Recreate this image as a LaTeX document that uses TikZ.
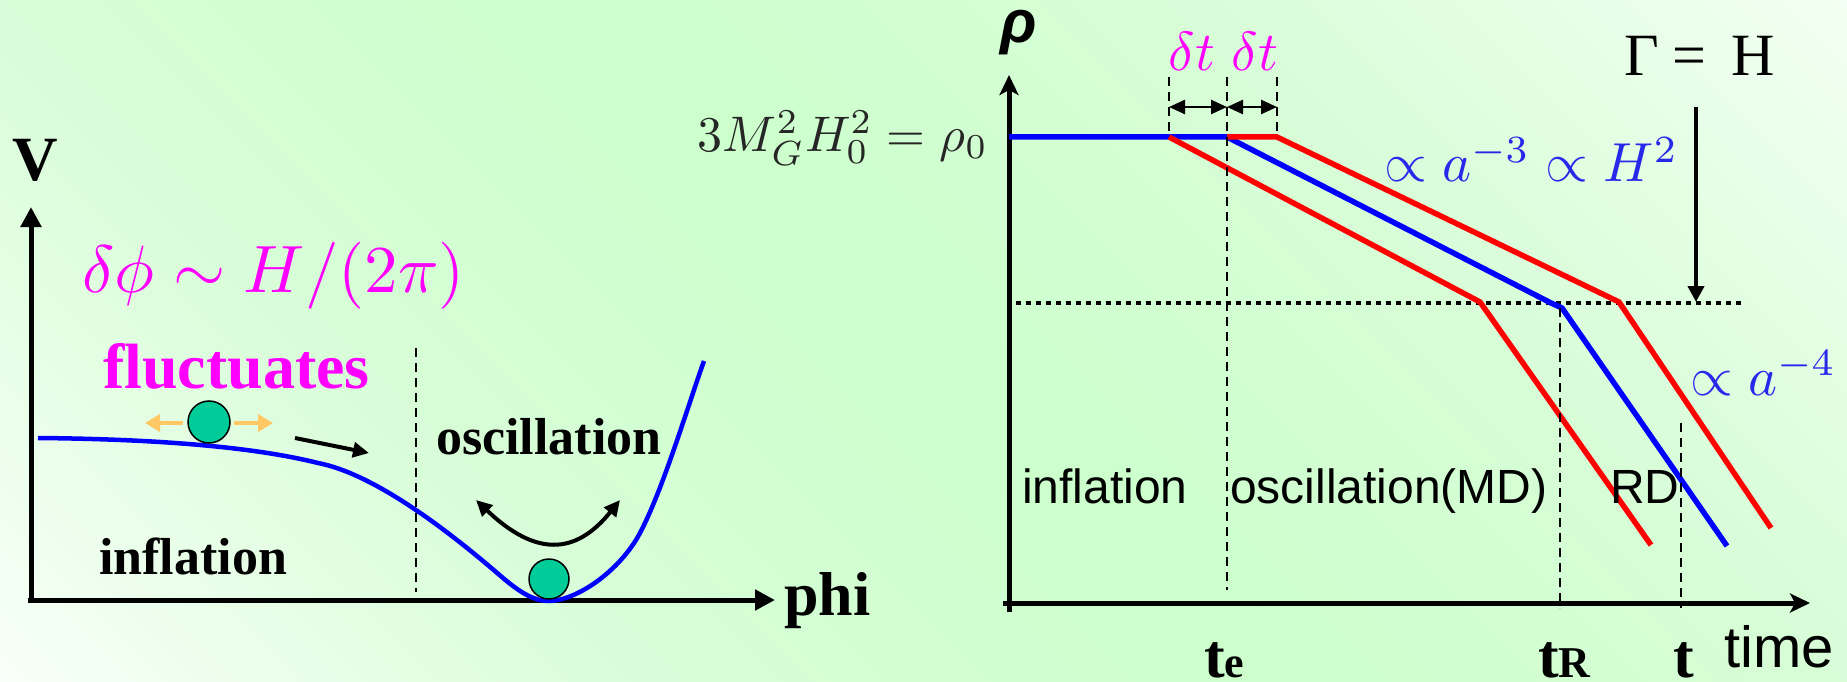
\documentclass[tikz,border=0pt]{standalone}
\usepackage{fontspec}
\setmainfont{Liberation Serif}
\setsansfont{Liberation Sans}
\newfontfamily\gothic{Liberation Sans}
\usetikzlibrary{arrows.meta}
\definecolor{bgA}{RGB}{248,255,248}
\definecolor{bgB}{RGB}{216,253,216}
\definecolor{bgC}{RGB}{204,255,204}
\definecolor{bgD}{RGB}{242,255,242}
\definecolor{mag}{RGB}{255,0,255}
\definecolor{mblue}{RGB}{40,40,235}
\definecolor{ballc}{RGB}{0,204,153}
\definecolor{orng}{RGB}{255,200,100}
\pgfdeclareverticalshading{bgsh}{100bp}{color(0bp)=(bgA); color(14.6bp)=(bgA); color(33bp)=(bgB); color(50bp)=(bgC); color(67bp)=(bgB); color(85.4bp)=(bgD); color(100bp)=(bgD)}
\tikzset{
  axisL/.style={line width=5pt, -{Triangle[length=20pt,width=20pt]}},
  axisR/.style={line width=5pt, -{Stealth[length=20pt,width=19pt,inset=5pt]}},
  vcurve/.style={blue, line width=4.5pt},
  rline/.style={red, line width=5.5pt},
  bline/.style={blue, line width=5.5pt},
  vdashed/.style={line width=2pt, dash pattern=on 9pt off 6pt},
  dotline/.style={line width=4.5pt, dash pattern=on 4.5pt off 5.5pt},
  ball/.style={circle, fill=ballc, draw=black, line width=1.5pt, minimum size=40pt, inner sep=0pt},
  lbl/.style={inner sep=0pt, anchor=base west},
  blkarrow/.style={line width=4pt, -{Triangle[length=16pt,width=15pt]}},
  oscarrow/.style={line width=4pt, {Triangle[length=16pt,width=15pt]}-{Triangle[length=16pt,width=15pt]}},
  orarrow/.style={orng, line width=4.5pt, -{Triangle[length=15pt,width=17pt]}},
  dtarrow/.style={line width=2.5pt, {Triangle[length=16pt,width=14pt]}-{Triangle[length=16pt,width=14pt]}},
  garrow/.style={line width=4.5pt, -{Triangle[length=16pt,width=16pt]}}
}
\begin{document}
\begin{tikzpicture}[x=1pt,y=-1pt]
\useasboundingbox (0,0) rectangle (1847,682);
\shade[shading=bgsh, shading angle=-45] (0,0) rectangle (1847,682);

% ---------- left panel ----------
\coordinate (vb) at (31,602);
\coordinate (vt) at (31,207);
\coordinate (hb) at (28,600);
\coordinate (ht) at (775,600);
\draw[axisL] (vb) -- (vt);
\draw[axisL] (hb) -- (ht);
\draw[vcurve] (38,438) .. controls (150,439) and (250,446) .. (318,463)
  .. controls (375,474) and (450,532) .. (503,578)
  .. controls (522,594) and (535,601) .. (549,601)
  .. controls (572,601) and (612,578) .. (636,540)
  .. controls (660,500) and (688,405) .. (704,361);
\coordinate (dl1) at (416,348);
\coordinate (dl2) at (416,592);
\draw[vdashed] (dl1) -- (dl2);

\node[ball, minimum size=42pt] (b1) at (209,422) {};
\node[ball] (b2) at (549,579) {};
\coordinate (oa1) at (183,423);
\coordinate (oa2) at (145,423);
\coordinate (oa3) at (234,423);
\coordinate (oa4) at (273,423);
\draw[orarrow] (oa1) -- (oa2);
\draw[orarrow] (oa3) -- (oa4);
\coordinate (ka1) at (295,438);
\coordinate (ka2) at (369,453);
\draw[blkarrow] (ka1) -- (ka2);
\coordinate (os1) at (476,500);
\coordinate (os2) at (620,500);
\draw[oscarrow] (os1) .. controls (535,556) and (575,556) .. (os2);

\node[lbl] (V) at (12,180) {\bfseries\fontsize{63}{70}\selectfont V};
\node[lbl, scale=6.7] (dphi) at (81,292) {\color{mag}$\delta\phi\sim H/(2\pi)$};
\node[lbl] (fluct) at (103,388) {\bfseries\color{mag}\fontsize{64}{70}\selectfont fluctuates};
\node[lbl] (oscL) at (436,454) {\bfseries\fontsize{52}{60}\selectfont oscillation};
\node[lbl] (infL) at (99,574) {\bfseries\fontsize{52}{60}\selectfont inflation};
\node[lbl] (phi) at (784,615) {\bfseries\fontsize{62}{70}\selectfont phi};

% ---------- right panel ----------
\coordinate (rb) at (1009,612);
\coordinate (rt) at (1009,75);
\coordinate (tb) at (1003,603);
\coordinate (tt) at (1810,603);
\draw[axisR] (rb) -- (rt);
\draw[axisR] (tb) -- (tt);
\node[inner sep=0pt] (rho) at (1019,33) {\sffamily\bfseries\itshape\fontsize{60}{62}\selectfont ρ};
\node[inner sep=0pt, anchor=east, scale=5.0] (rho0) at (989,138) {\color{black!85}$3M_G^2H_0^2=\rho_0$};

\draw[dotline] (1016,303) -- (1741,303);

\draw[bline] (1009,137) -- (1227,137) -- (1551,303) -- (1562,308) -- (1727,546);
\draw[rline] (1169,137) -- (1480,302) -- (1651,545);
\draw[rline] (1227,137) -- (1277,137) -- (1619,302) -- (1771,528);

\draw[vdashed] (1169,77) -- (1169,137);
\draw[vdashed] (1227,77) -- (1227,590);
\draw[vdashed] (1277,77) -- (1277,137);
\draw[vdashed] (1560,308) -- (1560,608);
\draw[vdashed] (1681,423) -- (1681,608);

\coordinate (d1) at (1169,107);
\coordinate (d2) at (1227,107);
\coordinate (d3) at (1277,107);
\draw[dtarrow] (d1) -- (d2);
\draw[dtarrow] (d2) -- (d3);
\node[inner sep=0pt, anchor=base, scale=5.5] (dt1) at (1192,71) {\color{mag}$\delta t$};
\node[inner sep=0pt, anchor=base, scale=5.5] (dt2) at (1255,71) {\color{mag}$\delta t$};

\node[lbl] (gam) at (1624,76) {\fontsize{60}{66}\selectfont Γ\hspace{14pt}=\hspace{25pt}H};
\coordinate (ga1) at (1696,107);
\coordinate (ga2) at (1696,302);
\draw[garrow] (ga1) -- (ga2);

\node[lbl, scale=5.5] (a3) at (1383,182) {\color{mblue}$\propto a^{-3}\propto H^2$};
\node[lbl, scale=5.5] (a4) at (1689,395) {\color{mblue}$\propto a^{-4}$};

\node[lbl] (infR) at (1022,503) {\gothic\fontsize{48}{50}\selectfont inflation};
\node[lbl] (oscR) at (1230,503) {\gothic\fontsize{48}{50}\selectfont oscillation(MD)};
\node[lbl] (rd) at (1610,503) {\gothic\fontsize{48}{50}\selectfont RD};

\node[lbl] (te) at (1204,677) {\bfseries\fontsize{62}{66}\selectfont t\fontsize{44}{46}\selectfont e};
\node[lbl] (tR) at (1538,677) {\bfseries\fontsize{62}{66}\selectfont t\fontsize{44}{46}\selectfont R};
\node[lbl] (tt0) at (1673,677) {\bfseries\fontsize{62}{66}\selectfont t};
\node[lbl] (time) at (1724,667) {\gothic\fontsize{58}{60}\selectfont time};
\end{tikzpicture}
\end{document}
